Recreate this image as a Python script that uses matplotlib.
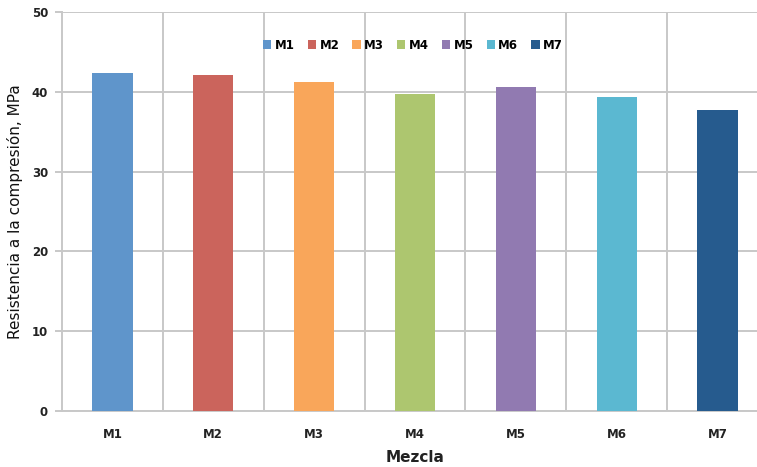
import numpy as np
import matplotlib.pyplot as plt
from matplotlib.patches import Patch

mezclas = ['M1', 'M2', 'M3', 'M4', 'M5', 'M6', 'M7']
resistencia = [42.3, 42.05, 41.25, 39.75, 40.65, 39.4, 37.75]
colores = ['#5f95cb', '#cb645c', '#f9a65a', '#adc66f', '#917ab1', '#5bb8d1', '#265b8e']

grid_color = '#c8c8c8'

fig = plt.figure(figsize=(7.57, 4.67), dpi=100)
# right side of the plot area runs off the image, like the original
ax = fig.add_axes([62/757, 56/467, 706/757, 399/467])

x = np.arange(len(mezclas))
ax.bar(x, resistencia, width=0.4, color=colores, zorder=3)

ax.set_xlim(-0.5, len(mezclas) - 0.5)
ax.set_ylim(0, 50)
ax.set_yticks(range(0, 51, 10))
ax.set_xticks(x)
ax.set_xticklabels(mezclas)

# horizontal grid + vertical separators between categories
ax.grid(True, axis='y', color=grid_color, lw=1.4, zorder=0)
for b in np.arange(0.5, len(mezclas) - 0.5, 1.0):
    ax.axvline(b, color=grid_color, lw=1.4, zorder=0)

for s in ['top', 'right']:
    ax.spines[s].set_visible(False)
for s in ['left', 'bottom']:
    ax.spines[s].set_color(grid_color)
    ax.spines[s].set_linewidth(1.4)

ax.tick_params(axis='y', length=5, width=1.4, color=grid_color, pad=5,
               labelsize=8.5)
ax.tick_params(axis='x', length=0, pad=12, labelsize=8.5)
for lab in ax.get_xticklabels() + ax.get_yticklabels():
    lab.set_fontweight('bold')
    lab.set_color('#222222')

ax.set_ylabel('Resistencia a la compresión, MPa', fontsize=11, color='#111111',
              labelpad=6)
ax.set_xlabel('Mezcla', fontsize=11, fontweight='bold', color='#222222',
              labelpad=7)

handles = [Patch(facecolor=c, label=m) for m, c in zip(mezclas, colores)]
leg = fig.legend(handles=handles, loc='center', ncol=7,
                 bbox_to_anchor=(413/757, 1 - 45/467), frameon=False,
                 handlelength=0.7, handleheight=0.7, handletextpad=0.3,
                 columnspacing=1.1, prop={'size': 8.5, 'weight': 'bold'})

fig.savefig('out.png', dpi=100)
